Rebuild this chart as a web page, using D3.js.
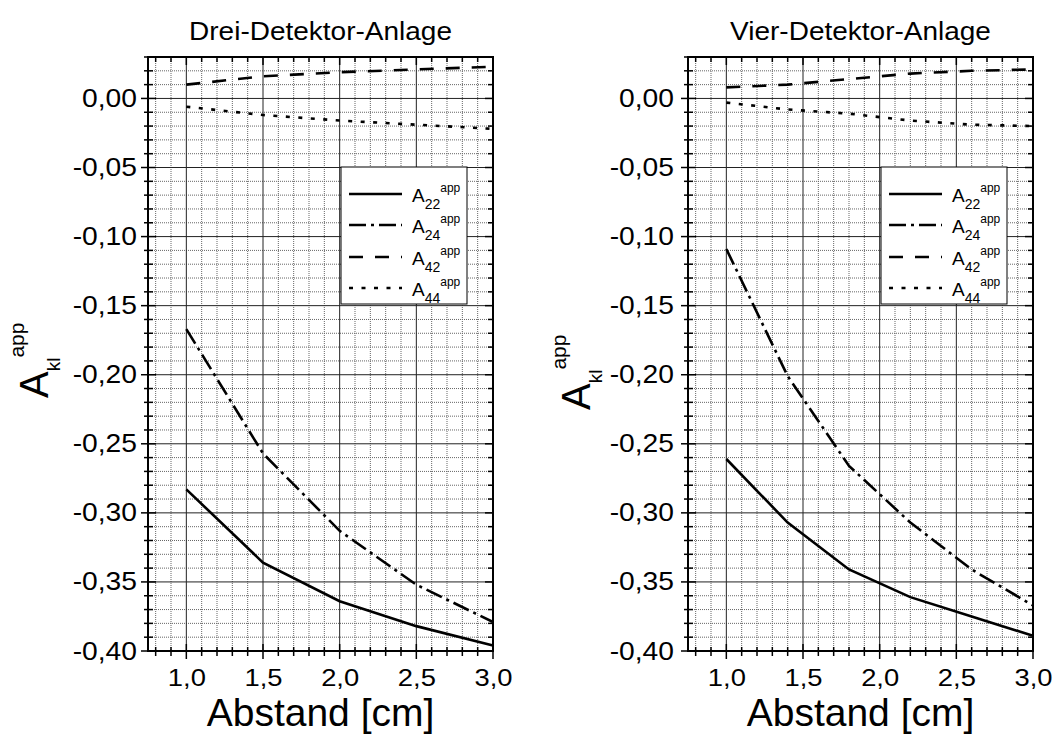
<!DOCTYPE html>
<html>
<head>
<meta charset="utf-8">
<script src="https://cdn.jsdelivr.net/npm/d3@7"></script>
<style>
  body { margin: 0; background: #fff; }
  svg { display: block; font-family: "Liberation Sans", Arial, sans-serif; }
</style>
</head>
<body>
<svg id="chart" width="1055" height="735"></svg>
<script>
// Abstand (cm) sampled in each setup
const abstandDrei = [1.0, 1.5, 2.0, 2.5, 3.0];
const abstandVier = [1.0, 1.4, 1.8, 2.2, 2.6, 3.0];

// Apparent asymmetries, three-detector setup
const dreiA22 = [-0.283, -0.336, -0.364, -0.382, -0.396];
const dreiA24 = [-0.167, -0.257, -0.313, -0.352, -0.379];
const dreiA42 = [0.010, 0.016, 0.019, 0.021, 0.023];
const dreiA44 = [-0.006, -0.012, -0.016, -0.019, -0.022];

// Apparent asymmetries, four-detector setup
const vierA22 = [-0.261, -0.307, -0.341, -0.361, -0.375, -0.389];
const vierA24 = [-0.109, -0.201, -0.266, -0.307, -0.341, -0.367];
const vierA42 = [0.008, 0.010, 0.014, 0.018, 0.020, 0.021];
const vierA44 = [-0.003, -0.008, -0.011, -0.016, -0.019, -0.020];

const seriesIndex = ["22", "24", "42", "44"];
const panelTitles = ["Drei-Detektor-Anlage", "Vier-Detektor-Anlage"];
const xTitle = "Abstand [cm]";
const xMajorTicks = [1.0, 1.5, 2.0, 2.5, 3.0];
const yMajorTicks = [-0.40, -0.35, -0.30, -0.25, -0.20, -0.15, -0.10, -0.05, 0.00];

const xDomain = [0.75, 3.0];
const yDomain = [-0.40, 0.03];

// German number format: comma decimal, plain hyphen minus
const de = d3.formatLocale({ decimal: ",", thousands: ".", grouping: [3], currency: ["", " €"], minus: "-" });
const fmtX = de.format(".1f");
const fmtY = de.format(".2f");

const dashes = { "22": null, "24": "17,5,3,5", "42": "14,12", "44": "4,8.5" };

const svg = d3.select("#chart");

const panels = [
  { x0: 148, x1: 493, title: panelTitles[0], xs: abstandDrei,
    ys: { "22": dreiA22, "24": dreiA24, "42": dreiA42, "44": dreiA44 }, labelGap: 11, yTitleAt: [48, 398] },
  { x0: 688, x1: 1033, title: panelTitles[1], xs: abstandVier,
    ys: { "22": vierA22, "24": vierA24, "42": vierA42, "44": vierA44 }, labelGap: 14, yTitleAt: [590, 410] }
];

const plotTop = 57, plotBottom = 651;

panels.forEach((p) => {
  const x = d3.scaleLinear().domain(xDomain).range([p.x0, p.x1]);
  const y = d3.scaleLinear().domain(yDomain).range([plotBottom, plotTop]);
  const g = svg.append("g");

  const xMinor = d3.range(8, 31).map(v => v / 10).filter(v => !xMajorTicks.some(t => Math.abs(t - v) < 1e-9));
  const yMinor = d3.range(-40, 4).map(v => v / 100).filter(v => !yMajorTicks.some(t => Math.abs(t - v) < 1e-9));

  // dotted minor grid
  g.append("g").selectAll("line").data(xMinor).join("line")
    .attr("x1", d => x(d)).attr("x2", d => x(d)).attr("y1", plotTop).attr("y2", plotBottom)
    .attr("stroke", "#666").attr("stroke-width", 1).attr("stroke-dasharray", "1,1");
  g.append("g").selectAll("line").data(yMinor).join("line")
    .attr("x1", p.x0).attr("x2", p.x1).attr("y1", d => y(d)).attr("y2", d => y(d))
    .attr("stroke", "#666").attr("stroke-width", 1).attr("stroke-dasharray", "1,1");

  // solid major grid
  g.append("g").selectAll("line").data(xMajorTicks).join("line")
    .attr("x1", d => x(d)).attr("x2", d => x(d)).attr("y1", plotTop).attr("y2", plotBottom)
    .attr("stroke", "#222").attr("stroke-width", 1);
  g.append("g").selectAll("line").data(yMajorTicks).join("line")
    .attr("x1", p.x0).attr("x2", p.x1).attr("y1", d => y(d)).attr("y2", d => y(d))
    .attr("stroke", "#222").attr("stroke-width", 1);

  // data curves
  const line = d3.line().x(d => x(d[0])).y(d => y(d[1]));
  seriesIndex.forEach(k => {
    g.append("path")
      .datum(p.xs.map((v, i) => [v, p.ys[k][i]]))
      .attr("d", line)
      .attr("fill", "none").attr("stroke", "#000").attr("stroke-width", 2.6)
      .attr("stroke-dasharray", dashes[k]);
  });

  // legend
  const lx = p.x0 + 193, ly = 167;
  const leg = g.append("g");
  leg.append("rect").attr("x", lx).attr("y", ly).attr("width", 126).attr("height", 137)
    .attr("fill", "#fff").attr("stroke", "#000").attr("stroke-width", 1);
  const rowY = [27, 58, 90, 121];
  seriesIndex.forEach((k, i) => {
    leg.append("line").attr("x1", lx + 8).attr("x2", lx + 61)
      .attr("y1", ly + rowY[i]).attr("y2", ly + rowY[i])
      .attr("stroke", "#000").attr("stroke-width", 2.6).attr("stroke-dasharray", dashes[k]);
    const t = leg.append("text").attr("x", lx + 71).attr("y", ly + rowY[i] + 8).attr("font-size", 19);
    t.append("tspan").text("A");
    t.append("tspan").attr("font-size", 14).attr("dy", 6.5).text(k);
    t.append("tspan").attr("font-size", 12).attr("dy", -17).text("app");
  });

  // frame
  g.append("rect").attr("x", p.x0).attr("y", plotTop).attr("width", p.x1 - p.x0).attr("height", plotBottom - plotTop)
    .attr("fill", "none").attr("stroke", "#000").attr("stroke-width", 2);

  // tick marks: crossing on left/bottom, inward on top/right
  const tk = g.append("g").attr("stroke", "#000").attr("stroke-width", 1.5);
  xMajorTicks.forEach(v => {
    tk.append("line").attr("x1", x(v)).attr("x2", x(v)).attr("y1", plotBottom - 7).attr("y2", plotBottom + 8);
    tk.append("line").attr("x1", x(v)).attr("x2", x(v)).attr("y1", plotTop).attr("y2", plotTop + 8);
  });
  xMinor.forEach(v => {
    tk.append("line").attr("x1", x(v)).attr("x2", x(v)).attr("y1", plotBottom - 4).attr("y2", plotBottom + 5);
    tk.append("line").attr("x1", x(v)).attr("x2", x(v)).attr("y1", plotTop).attr("y2", plotTop + 5);
  });
  yMajorTicks.forEach(v => {
    tk.append("line").attr("x1", p.x0 - 7).attr("x2", p.x0 + 8).attr("y1", y(v)).attr("y2", y(v));
    tk.append("line").attr("x1", p.x1 - 8).attr("x2", p.x1).attr("y1", y(v)).attr("y2", y(v));
  });
  yMinor.forEach(v => {
    tk.append("line").attr("x1", p.x0 - 4).attr("x2", p.x0 + 5).attr("y1", y(v)).attr("y2", y(v));
    tk.append("line").attr("x1", p.x1 - 5).attr("x2", p.x1).attr("y1", y(v)).attr("y2", y(v));
  });

  // tick labels through d3 axes
  const yAx = g.append("g").attr("transform", `translate(${p.x0},0)`)
    .call(d3.axisLeft(y).tickValues(yMajorTicks).tickFormat(fmtY).tickSize(0).tickPadding(0));
  yAx.select(".domain").remove();
  yAx.selectAll("text").attr("x", 0).attr("font-size", 25).attr("font-family", null)
    .attr("transform", `translate(${-p.labelGap},0) scale(1.13,1)`);

  const xAx = g.append("g").attr("transform", `translate(0,${plotBottom})`)
    .call(d3.axisBottom(x).tickValues(xMajorTicks).tickFormat(fmtX).tickSize(0).tickPadding(0));
  xAx.select(".domain").remove();
  xAx.selectAll("text").attr("y", 0).attr("dy", null).attr("font-size", 24).attr("font-family", null)
    .attr("transform", "translate(0,35) scale(1.14,1)");

  // titles
  g.append("text")
    .attr("transform", `translate(${(p.x0 + p.x1) / 2},40) scale(1.12,1)`)
    .attr("text-anchor", "middle").attr("font-size", 25).text(p.title);
  g.append("text").attr("x", (p.x0 + p.x1) / 2).attr("y", 726).attr("text-anchor", "middle")
    .attr("font-size", 39).text(xTitle);

  const yt = g.append("text")
    .attr("transform", `translate(${p.yTitleAt[0]},${p.yTitleAt[1]}) rotate(-90)`)
    .attr("font-size", 40);
  yt.append("tspan").text("A");
  yt.append("tspan").attr("font-size", 19).attr("dy", 12).text("kl");
  yt.append("tspan").attr("font-size", 21).attr("dy", -36).text("app");
});
</script>
</body>
</html>
